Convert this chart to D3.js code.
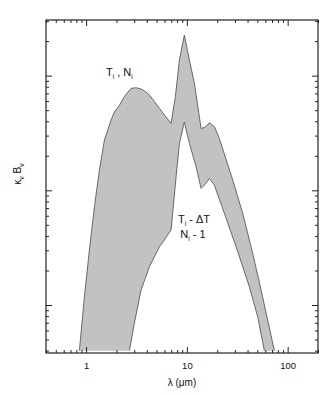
<!DOCTYPE html>
<html>
<head>
<meta charset="utf-8">
<script src="https://cdn.jsdelivr.net/npm/d3@7"></script>
<style>
  html, body { margin: 0; padding: 0; background: #fff; }
  svg { display: block; font-family: "Liberation Sans", Arial, Helvetica, sans-serif; }
</style>
</head>
<body>
<svg id="chart" width="332" height="395"></svg>
<script>
// ---- data ----
// Upper curve: T_i , N_i
const upperLambda = [0.858, 0.962, 1.078, 1.21, 1.355, 1.519, 1.77, 1.909, 2.15, 2.399, 2.795, 3.13, 3.51, 3.876, 4.25, 4.76, 5.34, 5.98, 6.97, 7.69, 8.43, 9.44, 10.59, 11.87, 13.83, 15.16, 16.72, 18.74, 21.0, 28.5, 35.8, 44.97, 54.5, 63.3, 73.8];
const upperValue  = [0.40, 1.18, 3.02, 7.19, 15.0, 27.4, 41.0, 48.2, 55.4, 65.7, 77.5, 78.4, 76.4, 72.7, 67.7, 59.4, 51.9, 45.4, 38.4, 65.5, 136.8, 226, 136.8, 85.7, 34.7, 35.4, 38.8, 35.9, 28.4, 12.3, 6.30, 2.82, 1.35, 0.74, 0.40];
// Lower curve: T_i - ΔT , N_i - 1
const lowerLambda = [2.69, 3.01, 3.51, 4.25, 5.34, 5.98, 6.97, 7.81, 8.43, 9.44, 10.59, 12.34, 13.83, 15.5, 16.72, 18.74, 23.55, 30.8, 41.7, 50.4, 58.7];
const lowerValue  = [0.40, 0.693, 1.35, 2.16, 3.22, 3.69, 4.51, 13.1, 25.7, 39.4, 25.7, 16.1, 10.4, 11.5, 12.7, 11.1, 6.30, 3.22, 1.44, 0.79, 0.40];

const xDomain = [0.4, 200];
const yDomain = [0.3815, 305.5];
const xTickLabels = [1, 10, 100];

// ---- layout ----
const svg = d3.select("#chart");
const L = 46, R = 318, T = 20, B = 353;
const x = d3.scaleLog().domain(xDomain).range([L, R]);
const y = d3.scaleLog().domain(yDomain).range([B, T]);

const upper = upperLambda.map((l, i) => [l, upperValue[i]]);
const lower = lowerLambda.map((l, i) => [l, lowerValue[i]]);

const line = d3.line().x(d => x(d[0])).y(d => y(d[1])).curve(d3.curveLinear);

// filled band: upper left->right, then lower right->left
const upPath = line(upper);
const lowRevPath = line(lower.slice().reverse()).replace(/^M/, "L");
svg.append("path")
  .attr("d", upPath + lowRevPath + "Z")
  .attr("fill", "#c2c2c2")
  .attr("stroke", "none");

svg.append("path").attr("d", upPath)
  .attr("fill", "none").attr("stroke", "#5a5a5a").attr("stroke-width", 0.9)
  .attr("stroke-linejoin", "round");
svg.append("path").attr("d", line(lower))
  .attr("fill", "none").attr("stroke", "#5a5a5a").attr("stroke-width", 0.9)
  .attr("stroke-linejoin", "round");

// ---- axes ----
const isMajor = d => Math.abs(Math.log10(d) - Math.round(Math.log10(d))) < 1e-6;
const MAJ = 6, MIN = 3;

function styleAxis(g, orient) {
  g.select(".domain").remove();
  g.selectAll(".tick line")
    .attr("stroke", "#222")
    .attr("stroke-width", 1)
    .each(function(d) {
      const len = isMajor(d) ? MAJ : MIN;
      const el = d3.select(this);
      if (orient === "bottom") el.attr("y2", -len);
      if (orient === "top") el.attr("y2", len);
      if (orient === "left") el.attr("x2", len);
      if (orient === "right") el.attr("x2", -len);
    });
}

const xt = x.ticks();
const yt = y.ticks();

const gb = svg.append("g").attr("transform", `translate(0,${B})`)
  .call(d3.axisBottom(x).tickValues(xt).tickSize(-MAJ).tickSizeOuter(0).tickPadding(9)
    .tickFormat(d => xTickLabels.includes(Math.round(d)) && isMajor(d) ? d3.format("d")(d) : ""));
styleAxis(gb, "bottom");
gb.selectAll(".tick text").attr("font-size", 9.5).attr("fill", "#111")
  .attr("font-family", '"Liberation Sans", Arial, Helvetica, sans-serif');

const gt = svg.append("g").attr("transform", `translate(0,${T})`)
  .call(d3.axisTop(x).tickValues(xt).tickSize(-MAJ).tickSizeOuter(0).tickFormat(""));
styleAxis(gt, "top");

const gl = svg.append("g").attr("transform", `translate(${L},0)`)
  .call(d3.axisLeft(y).tickValues(yt).tickSize(-MAJ).tickSizeOuter(0).tickFormat(""));
styleAxis(gl, "left");

const gr = svg.append("g").attr("transform", `translate(${R},0)`)
  .call(d3.axisRight(y).tickValues(yt).tickSize(-MAJ).tickSizeOuter(0).tickFormat(""));
styleAxis(gr, "right");

// frame
svg.append("rect").attr("x", L).attr("y", T).attr("width", R - L).attr("height", B - T)
  .attr("fill", "none").attr("stroke", "#222").attr("stroke-width", 1.2);

// ---- titles ----
svg.append("text").attr("x", (L + R) / 2).attr("y", 386).attr("text-anchor", "middle")
  .attr("font-size", 10).attr("fill", "#111").text("λ (μm)");

const yl = svg.append("text").attr("transform", "translate(21,174) rotate(-90)")
  .attr("text-anchor", "middle").attr("font-size", 10).attr("fill", "#111");
yl.append("tspan").text("κ");
yl.append("tspan").attr("font-size", 7).attr("dy", 2.5).text("ν");
yl.append("tspan").attr("dy", -2.5).text(" B");
yl.append("tspan").attr("font-size", 7).attr("dy", 2.5).text("ν");

// ---- annotations ----
function subText(xp, yp, parts, anchor) {
  const t = svg.append("text").attr("x", xp).attr("y", yp).attr("text-anchor", anchor)
    .attr("font-size", 11).attr("fill", "#111");
  let sub = false;
  parts.forEach(([s, isSub]) => {
    const ts = t.append("tspan").text(s);
    if (isSub && !sub) { ts.attr("font-size", 6.5).attr("dy", 3); sub = true; }
    else if (!isSub && sub) { ts.attr("dy", -3); sub = false; }
    else if (isSub) ts.attr("font-size", 6.5);
  });
  return t;
}
subText(106, 76, [["T", false], ["i", true], [" , N", false], ["i", true]], "start");
subText(194, 223, [["T", false], ["i", true], [" - ΔT", false]], "middle");
subText(193, 238, [["N", false], ["i", true], [" - 1", false]], "middle");
</script>
</body>
</html>
